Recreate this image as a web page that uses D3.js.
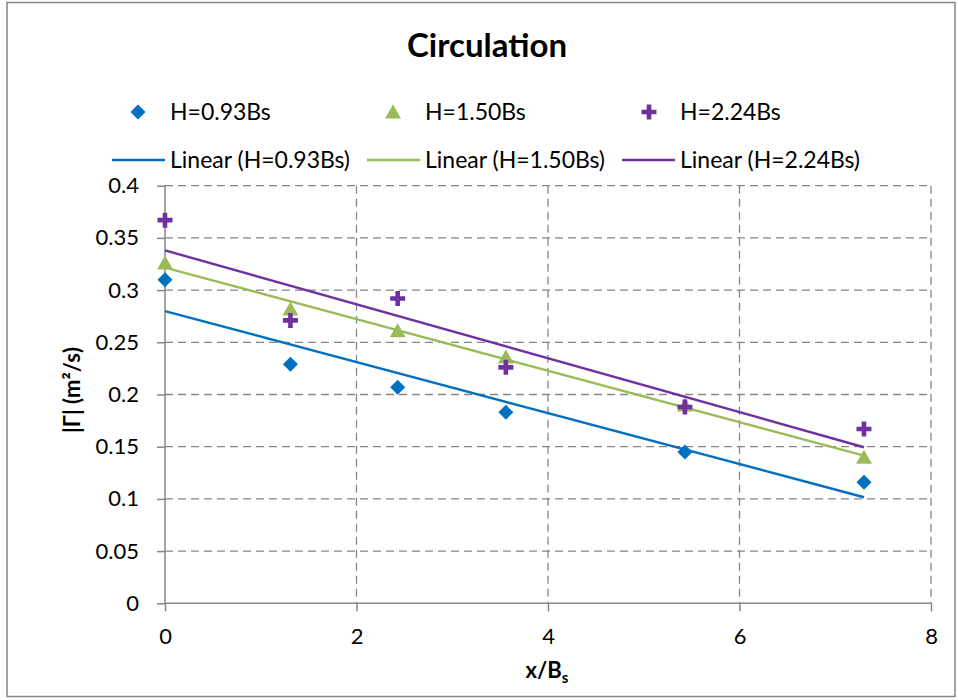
<!DOCTYPE html>
<html>
<head>
<meta charset="utf-8">
<script src="https://cdn.jsdelivr.net/npm/d3@7"></script>
<style>
  html, body { margin: 0; padding: 0; background: #fff; }
  svg { display: block; }
  text { font-family: Lato, "Open Sans", sans-serif; fill: #000; }
</style>
</head>
<body>
<svg id="chart" width="958" height="700"></svg>
<script>
// Measurement stations (x/Bs) and circulation |Γ| (m²/s) per water depth
const xPositions = [0, 1.31, 2.43, 3.56, 5.43, 7.30];
const seriesNames = ["H=0.93Bs", "H=1.50Bs", "H=2.24Bs"];
const gammaH093 = [0.310, 0.229, 0.207, 0.183, 0.145, 0.116];
const gammaH150 = [0.326, 0.282, 0.261, 0.236, 0.190, 0.140];
const gammaH224 = [0.367, 0.271, 0.292, 0.226, 0.188, 0.167];
const xTicks = [0, 2, 4, 6, 8];
const yTicks = [0, 0.05, 0.1, 0.15, 0.2, 0.25, 0.3, 0.35, 0.4];

const colors = ["#0070C0", "#9BBB59", "#7030A0"];
const markers = ["diamond", "triangle", "cross"];
const seriesValues = [gammaH093, gammaH150, gammaH224];

const series = seriesNames.map((name, i) => ({
  name,
  color: colors[i],
  marker: markers[i],
  points: xPositions.map((x, j) => ({ x, y: seriesValues[i][j] }))
}));

// Least-squares fit for the trendlines
function linearFit(pts) {
  const mx = d3.mean(pts, d => d.x), my = d3.mean(pts, d => d.y);
  let sxy = 0, sxx = 0;
  pts.forEach(d => { sxy += (d.x - mx) * (d.y - my); sxx += (d.x - mx) ** 2; });
  const slope = sxy / sxx;
  return { slope, intercept: my - slope * mx };
}

const svg = d3.select("#chart");
const gridColor = "#868686";

// Outer chart border
svg.append("rect")
  .attr("x", 7).attr("y", 2.5).attr("width", 948).attr("height", 694)
  .attr("fill", "none").attr("stroke", gridColor).attr("stroke-width", 1.5);

const x = d3.scaleLinear().domain([0, 8]).range([165, 931]);
const y = d3.scaleLinear().domain([0, 0.4]).range([603.3, 185.7]);

// Dashed gridlines
svg.append("g").selectAll("line.h")
  .data(yTicks.filter(t => t > 0))
  .join("line")
  .attr("x1", x(0)).attr("x2", x(8))
  .attr("y1", d => y(d)).attr("y2", d => y(d))
  .attr("stroke", gridColor).attr("stroke-width", 1.3)
  .attr("stroke-dasharray", "8,5");

svg.append("g").selectAll("line.v")
  .data(xTicks.filter(t => t > 0))
  .join("line")
  .attr("x1", d => x(d)).attr("x2", d => x(d))
  .attr("y1", y(0.4)).attr("y2", y(0))
  .attr("stroke", gridColor).attr("stroke-width", 1.3)
  .attr("stroke-dasharray", "8,5");

// Axes
const xAxis = d3.axisBottom(x).tickValues(xTicks).tickSize(8).tickPadding(12)
  .tickFormat(d3.format("d"));
const yAxis = d3.axisLeft(y).tickValues(yTicks).tickSize(8).tickPadding(18)
  .tickFormat(d => d === 0 ? "0" : String(+d.toFixed(2)));

const gx = svg.append("g").attr("transform", `translate(0,${y(0)})`).call(xAxis);
const gy = svg.append("g").attr("transform", `translate(${x(0)},0)`).call(yAxis);

[gx, gy].forEach(g => {
  g.select(".domain").attr("stroke", gridColor).attr("stroke-width", 1.5);
  g.selectAll(".tick line").attr("stroke", gridColor).attr("stroke-width", 1.5);
  g.selectAll(".tick text")
    .style("font-family", "Lato, sans-serif")
    .style("font-size", "22px").attr("fill", "#000");
});
gx.select(".domain").attr("d", `M${x(0)},0H${x(8)}`);
gy.select(".domain").attr("d", `M0,${y(0)}V${y(0.4)}`);
gx.selectAll(".tick text").attr("dy", "0.95em");

// Trendlines
const line = d3.line().x(d => x(d.x)).y(d => y(d.y));
series.forEach(s => {
  const fit = linearFit(s.points);
  const x0 = d3.min(xPositions), x1 = d3.max(xPositions);
  svg.append("path")
    .datum([{ x: x0, y: fit.intercept + fit.slope * x0 }, { x: x1, y: fit.intercept + fit.slope * x1 }])
    .attr("d", line)
    .attr("fill", "none").attr("stroke", s.color).attr("stroke-width", 2.4);
});

// Marker shapes
function markerPath(type) {
  if (type === "diamond") return "M0,-7.5L7.5,0L0,7.5L-7.5,0Z";
  if (type === "triangle") return "M0,-7.5L8,6.5L-8,6.5Z";
  return "M-2.3,-7.5H2.3V-2.3H7.5V2.3H2.3V7.5H-2.3V2.3H-7.5V-2.3H-2.3Z";
}

series.forEach(s => {
  svg.append("g").selectAll("path")
    .data(s.points)
    .join("path")
    .attr("transform", d => `translate(${x(d.x)},${y(d.y)})`)
    .attr("d", markerPath(s.marker))
    .attr("fill", s.color);
});

// Title
svg.append("text")
  .attr("x", 487).attr("y", 57)
  .attr("text-anchor", "middle")
  .style("font-size", "33px").style("font-weight", "bold")
  .text("Circulation");

// Legend
const legendX = [138, 393, 649];
const legendTextX = [170, 425, 680];
series.forEach((s, i) => {
  svg.append("path")
    .attr("transform", `translate(${legendX[i]},112)`)
    .attr("d", markerPath(s.marker))
    .attr("fill", s.color);
  svg.append("text")
    .attr("x", legendTextX[i]).attr("y", 120)
    .style("font-size", "23px")
    .text(s.name);
  svg.append("line")
    .attr("x1", legendTextX[i] - 58).attr("x2", legendTextX[i] - 5)
    .attr("y1", 160).attr("y2", 160)
    .attr("stroke", s.color).attr("stroke-width", 2.4);
  svg.append("text")
    .attr("x", legendTextX[i]).attr("y", 168)
    .style("font-size", "23px")
    .text(`Linear (${s.name})`);
});

// Axis titles
const xLabel = svg.append("text")
  .attr("x", 547).attr("y", 678)
  .attr("text-anchor", "middle")
  .style("font-size", "22px").style("font-weight", "bold");
xLabel.append("tspan").text("x/B");
xLabel.append("tspan").attr("dy", 5).style("font-size", "15px").text("s");

svg.append("text")
  .attr("transform", "translate(80,390) rotate(-90)")
  .attr("text-anchor", "middle")
  .style("font-size", "22px").style("font-weight", "bold")
  .text("|Γ| (m²/s)");
</script>
</body>
</html>
